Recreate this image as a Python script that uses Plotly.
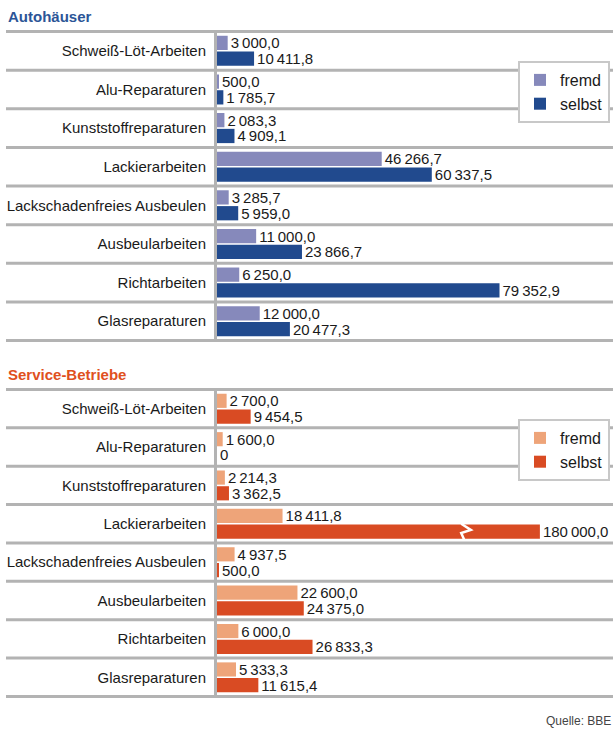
import plotly.graph_objects as go

categories = ["Schweiß-Löt-Arbeiten", "Alu-Reparaturen", "Kunststoffreparaturen",
              "Lackierarbeiten", "Lackschadenfreies Ausbeulen", "Ausbeularbeiten",
              "Richtarbeiten", "Glasreparaturen"]

auto_fremd = [3000.0, 500.0, 2083.3, 46266.7, 3285.7, 11000.0, 6250.0, 12000.0]
auto_selbst = [10411.8, 1785.7, 4909.1, 60337.5, 5959.0, 23866.7, 79352.9, 20477.3]
serv_fremd = [2700.0, 1600.0, 2214.3, 18411.8, 4937.5, 22600.0, 6000.0, 5333.3]
serv_selbst = [9454.5, 0, 3362.5, 180000.0, 500.0, 24375.0, 26833.3, 11615.4]

series_names = ["fremd", "selbst"]
titles = ["Autohäuser", "Service-Betriebe"]
source = "Quelle: BBE"

# style / layout constants
W, H = 613, 731
FONT = "Liberation Sans"
PX_PER_UNIT = 0.00356
X0_PX = 217
XMAX = (W - X0_PX) / PX_PER_UNIT
CAP = 90700          # displayed length of broken bar
BREAK_AT = 70400     # position of break mark
C_AUTO = ["#8689bb", "#214a8e"]
C_SERV = ["#eea479", "#d94b23"]
GRID = "#b3b3b3"


def fmt(v):
    if v == 0:
        return "0"
    s = f"{v:,.1f}"
    s = s.replace(",", "\u2009").replace(".", ",")
    return s


def py(px):
    return 1 - px / H


fig = go.Figure()

panels = [
    (auto_fremd, auto_selbst, C_AUTO, "x", "y", "legend", (30, 342)),
    (serv_fremd, serv_selbst, C_SERV, "x2", "y2", "legend2", (388, 698)),
]

for vals_f, vals_s, cols, xa, ya, lg, _ in panels:
    for name, vals, col in zip(series_names, [vals_f, vals_s], cols):
        fig.add_trace(go.Bar(
            y=categories, x=[min(v, CAP) for v in vals], orientation="h",
            name=name, marker=dict(color=col, line=dict(width=0)),
            text=[fmt(v) for v in vals], textposition="outside",
            constraintext="none",
            textfont=dict(family=FONT, size=15, color="#1a1a1a"),
            cliponaxis=False, xaxis=xa, yaxis=ya, legend=lg,
            hoverinfo="skip",
        ))

layout = dict(
    width=W, height=H, margin=dict(l=0, r=0, t=0, b=0),
    paper_bgcolor="white", plot_bgcolor="white",
    barmode="group", bargap=0.18, bargroupgap=0.1,
    font=dict(family=FONT, size=15, color="#1a1a1a"),
    showlegend=True,
)

shapes = []
annotations = []
for i, (vals_f, vals_s, cols, xa, ya, lg, (top, bot)) in enumerate(panels):
    xk = "xaxis" if i == 0 else "xaxis2"
    yk = "yaxis" if i == 0 else "yaxis2"
    layout[xk] = dict(domain=[X0_PX / W, 1], range=[0, XMAX], visible=False,
                      anchor=ya)
    layout[yk] = dict(domain=[py(bot), py(top)], autorange="reversed",
                      type="category", showline=True, linecolor=GRID,
                      linewidth=3, showgrid=False, ticks="",
                      ticklabelstandoff=5, anchor=xa,
                      tickfont=dict(family=FONT, size=15, color="#1a1a1a"))
    layout[lg] = dict(x=518 / W, y=py(top + 31),
                      xanchor="left", yanchor="top", bgcolor="white",
                      bordercolor="#c8c8c8", borderwidth=2,
                      font=dict(family=FONT, size=16, color="#1a1a1a"),
                      itemwidth=30, tracegroupgap=2)
    for k in range(len(categories) + 1):
        shapes.append(dict(type="line", xref="paper", yref=ya,
                           x0=6 / W, x1=1, y0=k - 0.5, y1=k - 0.5,
                           line=dict(color=GRID, width=3), layer="below"))
    annotations.append(dict(text=f"<b>{titles[i]}</b>", xref="paper", yref="paper",
                            x=6 / W, y=py(top - 14), xanchor="left", yanchor="middle",
                            showarrow=False,
                            font=dict(family=FONT, size=15,
                                      color="#2c5597" if i == 0 else "#e0501e")))

# break mark on the capped bar(s)
for j, v in enumerate(serv_selbst):
    if v > CAP:
        d = 1800
        shapes.append(dict(type="path", xref="x2", yref="y2",
                           path=(f"M {BREAK_AT - d},{j + 0.0} L {BREAK_AT + d * 0.5},{j + 0.16} "
                                 f"L {BREAK_AT - d},{j + 0.24} L {BREAK_AT - d * 0.5},{j + 0.43}"),
                           line=dict(color="white", width=2.5)))

annotations.append(dict(text=source, xref="paper", yref="paper", x=1, y=py(721),
                        xanchor="right", yanchor="middle", showarrow=False,
                        font=dict(family=FONT, size=12, color="#444444")))

layout["shapes"] = shapes
layout["annotations"] = annotations
fig.update_layout(**layout)
fig.write_html("out.html", config={"displayModeBar": False},
               post_script="document.body.style.margin='0';document.body.style.overflow='hidden';")
